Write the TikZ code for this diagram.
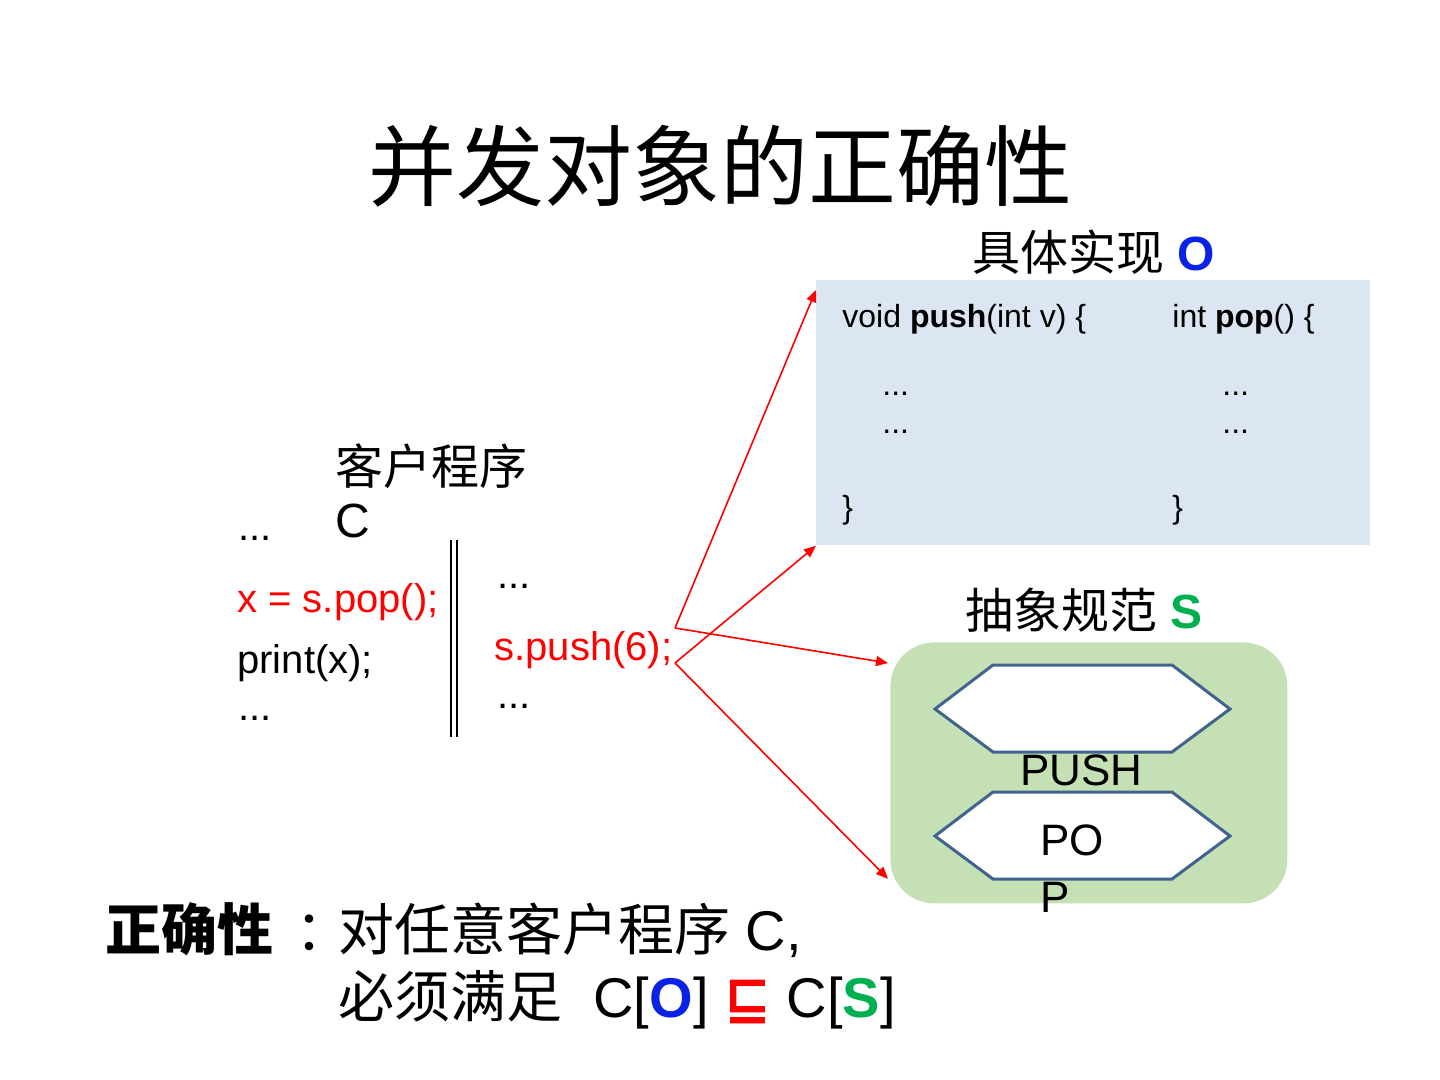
\documentclass[tikz,border=0pt]{standalone}
\usepackage{fontspec}
\setmainfont{Liberation Sans}
\newfontfamily\cjk{Noto Sans CJK SC}
\newfontfamily\djv{DejaVu Sans}
\usetikzlibrary{arrows.meta,calc}
\definecolor{implblue}{HTML}{DCE6F2}
\definecolor{specgreen}{HTML}{C5E0B4}
\definecolor{hexline}{HTML}{41648F}
\definecolor{oblue}{HTML}{0A22E6}
\definecolor{sgreen}{HTML}{00B050}
\definecolor{cred}{HTML}{FF0000}
\newcommand{\fs}[1]{\fontsize{#1}{1.2\dimexpr#1pt\relax}\selectfont}
\begin{document}
\begin{tikzpicture}[x=0.5pt,y=-0.5pt,
  txt/.style={inner sep=0pt,anchor=base west},
  conn/.style={draw=cred,line width=0.8pt,-{Triangle[length=6pt,width=5pt]}},
  hexa/.style={draw=hexline,line width=1.5pt,fill=white,line join=miter},
  codefont/.style={font=\fs{16}},
  clientfont/.style={font=\fs{20}}]
\useasboundingbox (0,0) rectangle (1440,1080);

% title
\node[inner sep=0pt,anchor=base] (title) at (720,200) {\fs{44}\cjk 并发对象的正确性};

% implementation box
\node (impl) [rectangle,fill=implblue,minimum width=277pt,minimum height=132.5pt,inner sep=0pt,anchor=north west] at (816,280) {};
\node[txt] (implhead) at (972,271) {\fs{24}{\cjk 具体实现} \textcolor{oblue}{\bfseries O}};
\node[txt,codefont] (pushsig) at (842,328) {void \textbf{push}(int v) \{};
\node[txt,codefont] (pushd1) at (882,396) {...};
\node[txt,codefont] (pushd2) at (882,434) {...};
\node[txt,codefont] (pushend) at (842,518) {\}};
\node[txt,codefont] (popsig) at (1172,328) {int \textbf{pop}() \{};
\node[txt,codefont] (popd1) at (1222,396) {...};
\node[txt,codefont] (popd2) at (1222,434) {...};
\node[txt,codefont] (popend) at (1172,518) {\}};

% specification box
\node (spec) [rectangle,rounded corners=22pt,fill=specgreen,minimum width=198.5pt,minimum height=130.5pt,inner sep=0pt,anchor=north west] at (890,642) {};
\node[txt] (spechead) at (965,628) {\fs{24}{\cjk 抽象规范} \textcolor{sgreen}{\bfseries S}};
\draw[hexa] (935,709) -- (993,665) -- (1172,665) -- (1230,709) -- (1172,752) -- (993,752) -- cycle;
\draw[hexa] (935,836) -- (993,792) -- (1172,792) -- (1230,836) -- (1172,879) -- (993,879) -- cycle;
\node[txt,font=\fs{22}] (pushlbl) at (1020,785) {PUSH};
\node[txt,font=\fs{22}] (poplbla) at (1040,855) {PO};
\node[txt,font=\fs{22}] (poplblb) at (1040,912) {P};

% client program
\node[txt] (clienthead) at (335,484) {\fs{24}\cjk 客户程序};
\node[txt] (clientc) at (335,537) {\fs{24}C};
\node[txt,clientfont] (ldots1) at (238,540) {...};
\node[txt,clientfont,text=cred] (lpop) at (237,612) {x = s.pop();};
\node[txt,clientfont] (lprint) at (237,673) {print(x);};
\node[txt,clientfont] (ldots2) at (238,720) {...};
\node[txt,clientfont] (rdots1) at (497,588) {...};
\node[txt,clientfont,text=cred] (rpush) at (494,660) {s.push(6);};
\node[txt,clientfont] (rdots2) at (497,708) {...};
\draw[line width=0.8pt] (451,540) -- (451,737);
\draw[line width=0.8pt] (457,540) -- (457,737);

% connectors
\coordinate (o1) at (675,628);
\coordinate (o2) at (675,663);
\draw[conn] (o1) -- ([yshift=-5pt]impl.north west);
\draw[conn] (o1) -- ([yshift=-10.5pt,xshift=-1pt]spec.north west);
\draw[conn] (o2) -- (impl.south west);
\draw[conn] (o2) -- ([yshift=12.5pt,xshift=-1pt]spec.south west);

% correctness statement
\node[txt] (corr) at (105,950) {\fs{28}\cjk\bfseries 正确性};
\node[txt] (corrcolon) at (295,950) {\fs{28}\cjk ：};
\node[txt] (corr1) at (338,950) {\fs{28}{\cjk 对任意客户程序} C,};
\node[txt] (corr2) at (338,1017) {\fs{28}{\cjk 必须满足}\ \ C[\textcolor{oblue}{\bfseries O}] \textcolor{cred}{\djv\bfseries ⊑} C[\textcolor{sgreen}{\bfseries S}]};
\end{tikzpicture}
\end{document}
